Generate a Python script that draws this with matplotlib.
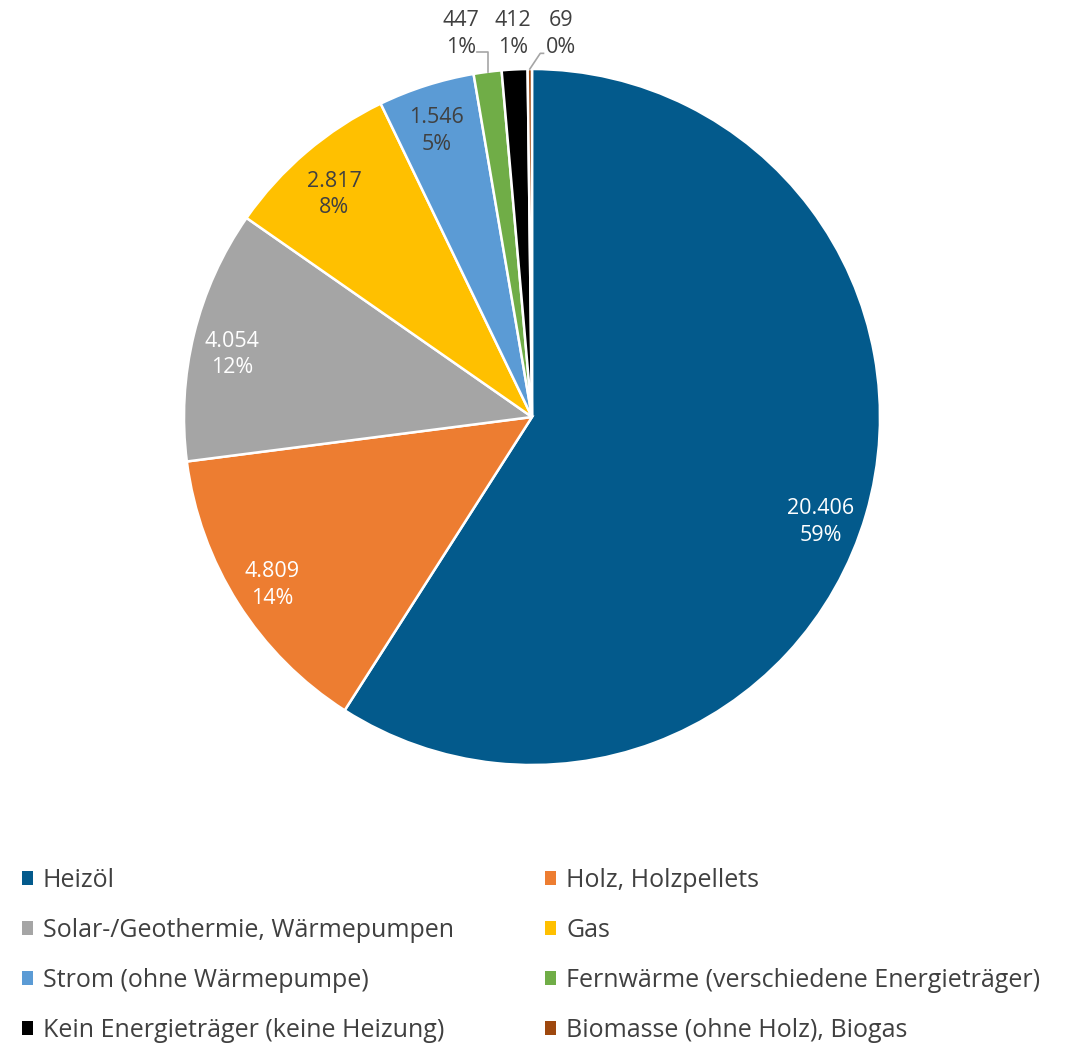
import numpy as np
import matplotlib.pyplot as plt
from matplotlib.patches import Patch

plt.rcParams['font.family'] = ['Open Sans', 'DejaVu Sans']

# data
categories = ['Heizöl', 'Holz, Holzpellets', 'Solar-/Geothermie, Wärmepumpen', 'Gas',
              'Strom (ohne Wärmepumpe)', 'Fernwärme (verschiedene Energieträger)',
              'Kein Energieträger (keine Heizung)', 'Biomasse (ohne Holz), Biogas']
values = [20406, 4809, 4054, 2817, 1546, 447, 412, 69]
percents = [59, 14, 12, 8, 5, 1, 1, 0]
colors = ['#035A8C', '#ED7D31', '#A5A5A5', '#FFC000', '#5B9BD5', '#70AD47', '#000000', '#9E480E']
label_colors = ['white', 'white', 'white', '#404040', '#404040']
# small nudges of the inside labels (axes units)
nudge = [(-0.011, -0.057), (-0.009, -0.014), (-0.011, -0.029), (0.0, -0.026), (-0.009, -0.011)]

fig = plt.figure(figsize=(10.79, 10.43), dpi=100)
R = 348
ax = fig.add_axes([(532 - R) / 1079, (1043 - 765) / 1043, 2 * R / 1079, 2 * R / 1043])

wedges, _ = ax.pie(values, colors=colors, startangle=90, counterclock=False, radius=1,
                   wedgeprops=dict(edgecolor='white', linewidth=1.8))
ax.set_xlim(-1, 1)
ax.set_ylim(-1, 1)
ax.set_aspect('equal')
ax.axis('off')


def fmt(v):
    return f'{v:,}'.replace(',', '.')


# inside labels
for i, w in enumerate(wedges[:5]):
    ang = np.deg2rad((w.theta1 + w.theta2) / 2)
    r = 0.875
    ax.text(r * np.cos(ang) + nudge[i][0], r * np.sin(ang) + nudge[i][1],
            f'{fmt(values[i])}\n{percents[i]}%',
            ha='center', va='center', fontsize=15.5, color=label_colors[i], linespacing=1.35)

# outside labels for small slices
out_x = [-0.204, -0.055, 0.083]
label_y = 1.10
for k, i in enumerate(range(5, 8)):
    w = wedges[i]
    ang = np.deg2rad((w.theta1 + w.theta2) / 2)
    ax0, ay0 = np.cos(ang), np.sin(ang)
    ax.text(out_x[k], label_y, f'{fmt(values[i])}\n{percents[i]}%',
            ha='center', va='center', fontsize=15.5, color='#404040', linespacing=1.35,
            clip_on=False)
    if k == 0:
        ax.plot([ax0, ax0, out_x[k] + 0.045], [ay0, 1.05, 1.05], color='#A5A5A5', lw=1.2,
                clip_on=False)
    elif k == 2:
        ax.plot([ax0, ax0 + 0.03, out_x[k] - 0.05], [ay0, 1.045, 1.045], color='#A5A5A5', lw=1.2,
                clip_on=False)

# legend
handles = [Patch(facecolor=c, edgecolor='none') for c in colors]
order = [0, 2, 4, 6, 1, 3, 5, 7]
fig.legend([handles[i] for i in order], [categories[i] for i in order], ncol=2,
           loc='upper left', bbox_to_anchor=(0.02, 0.168), frameon=False,
           fontsize=18, labelcolor='#404040', handlelength=0.45, handleheight=0.45,
           handletextpad=0.4, columnspacing=3.65, labelspacing=1.0,
           borderpad=0, borderaxespad=0)

plt.savefig('out.png', dpi=100)
